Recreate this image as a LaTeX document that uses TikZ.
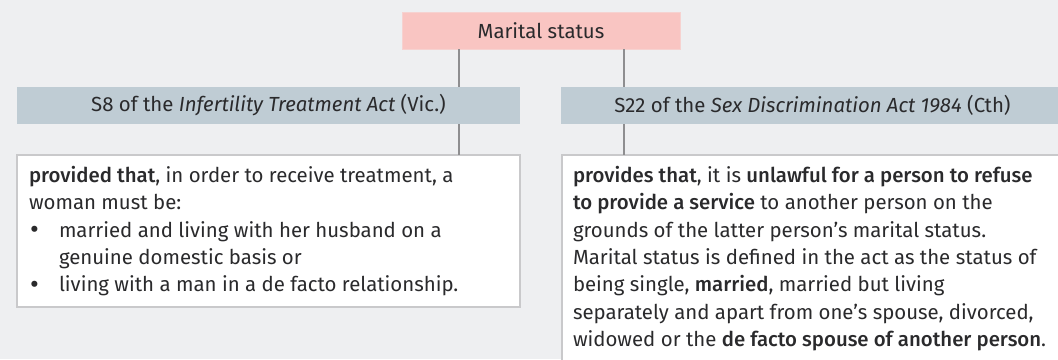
\documentclass[tikz,border=0pt]{standalone}
\usepackage{fontspec}
\setmainfont{Fira Sans}[BoldFont={Fira Sans Medium}]
\newcommand{\listdot}{\makebox[30pt][l]{\hspace*{1pt}\raisebox{-1.5pt}{\fontsize{27}{27}\selectfont\textbullet}}}
\begin{document}
\definecolor{pagebg}{HTML}{EEEFF1}
\definecolor{pinkfill}{HTML}{F9C5C2}
\definecolor{pinkline}{HTML}{F6D2D0}
\definecolor{headfill}{HTML}{BFCCD4}
\definecolor{boxline}{HTML}{C9C9CB}
\definecolor{linkline}{HTML}{8E8E90}
\definecolor{ink}{HTML}{2A2A2C}
\begin{tikzpicture}[x=1pt,y=-1pt,
  every node/.style={inner sep=0pt, outer sep=0pt, text=ink},
  titlebox/.style={rectangle, fill=pinkfill, draw=pinkline, line width=1pt,
    minimum width=278pt, minimum height=37pt, font=\fontsize{20.4}{24}\selectfont},
  headbox/.style={rectangle, fill=headfill, minimum width=503pt, minimum height=37pt,
    font=\fontsize{20.4}{24}\selectfont},
  textbox/.style={rectangle, fill=white, draw=boxline, line width=1.2pt, anchor=north west},
  bodytext/.style={anchor=north west, align=left, font=\fontsize{20.4}{27.4}\selectfont},
  link/.style={draw=linkline, line width=1.3pt}]
\useasboundingbox (0,0) rectangle (1058,359);
\fill[pagebg] (0,0) rectangle (1058,359);
\begin{scope}
\clip (0,0) rectangle (1058,359);
% top node and the two headings
\node[titlebox] (ms) at (541,30.5) {Marital status};
\node[headbox] (h1) at (268.5,105.5) {S8 of the \textit{Infertility Treatment Act} (Vic.)};
\node[headbox] (h2) at (812.5,105.5) {S22 of the \textit{Sex Discrimination Act 1984} (Cth)};
% text boxes
\node[textbox, minimum width=503pt, minimum height=152pt] (t1) at (17,155) {};
\node[textbox, minimum width=503pt, minimum height=230pt] (t2) at (562,155) {};
\node[bodytext] (t1txt) at (29,166) {%
  \textbf{provided that}, in order to receive treatment, a\\
  woman must be:\\
  \listdot married and living with her husband on a\\
  \hspace*{30pt}genuine domestic basis or\\
  \listdot living with a man in a de facto relationship.};
\node[bodytext] (t2txt) at (573,166) {%
  \textbf{provides that}, it is \textbf{unlawful for a person to refuse}\\
  \textbf{to provide a service} to another person on the\\
  grounds of the latter person’s marital status.\\
  Marital status is defined in the act as the status of\\
  being single, \textbf{married}, married but living\\
  separately and apart from one’s spouse, divorced,\\
  widowed or the \textbf{de facto spouse of another person}.};
% connectors
\coordinate (xl) at (459,0);
\coordinate (xr) at (624,0);
\draw[link] (ms.south -| xl) -- (h1.north -| xl);
\draw[link] (ms.south -| xr) -- (h2.north -| xr);
\draw[link] (h1.south -| xl) -- (t1.north -| xl);
\draw[link] (h2.south -| xr) -- (t2.north -| xr);
\end{scope}
\end{tikzpicture}
\end{document}
